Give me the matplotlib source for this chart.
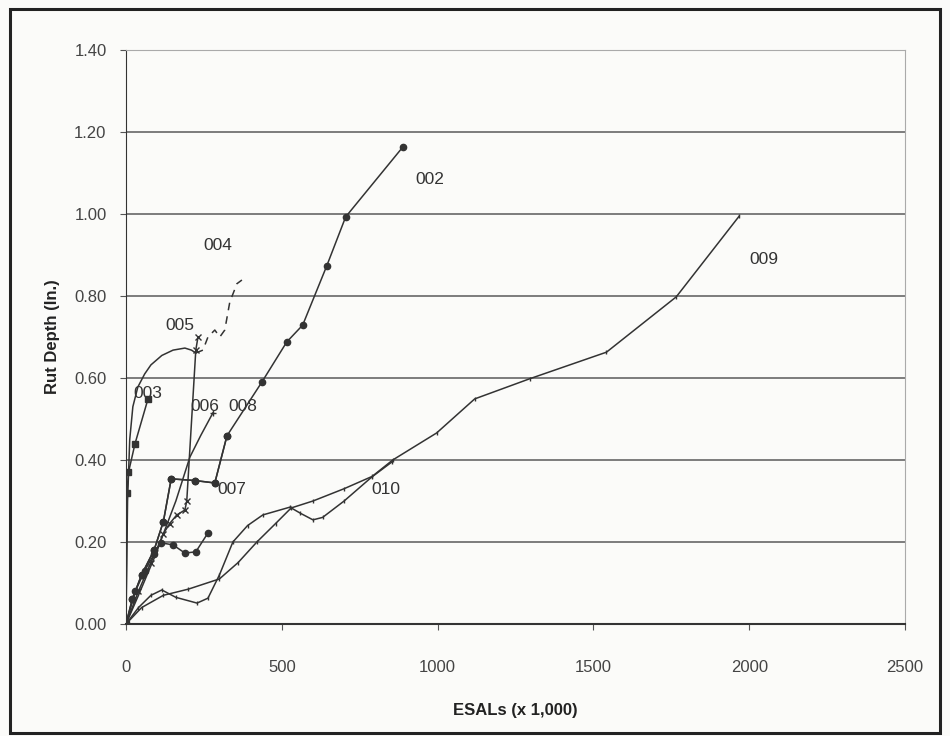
import matplotlib.pyplot as plt
from matplotlib.patches import Rectangle

plt.rcParams['font.family'] = ['Liberation Sans', 'DejaVu Sans']

# section data (ESALs x 1000, rut depth in.)
x_002 = [0, 20, 50, 90, 120, 145, 220, 285, 324, 436, 516, 567, 644, 705, 888]
y_002 = [0, 0.06, 0.12, 0.18, 0.25, 0.354, 0.35, 0.344, 0.459, 0.59, 0.688, 0.729, 0.873, 0.993, 1.163]

x_003 = [0, 3, 8, 29, 71]
y_003 = [0, 0.32, 0.37, 0.44, 0.55]

x_004 = [0, 5, 12, 22, 38, 60, 80, 115, 151, 189, 210, 224]
y_004 = [0, 0.30, 0.45, 0.53, 0.578, 0.61, 0.632, 0.655, 0.668, 0.673, 0.668, 0.661]
x_004b = [224, 247, 263, 285, 301, 317, 333, 356, 372]
y_004b = [0.661, 0.668, 0.70, 0.717, 0.70, 0.717, 0.785, 0.83, 0.839]

x_005 = [0, 40, 80, 120, 140, 163, 189, 195, 224, 231]
y_005 = [0, 0.08, 0.15, 0.22, 0.245, 0.266, 0.278, 0.30, 0.668, 0.70]

x_006 = [0, 40, 90, 130, 160, 205, 240, 279]
y_006 = [0, 0.07, 0.16, 0.24, 0.30, 0.407, 0.46, 0.515]

x_007 = [0, 30, 60, 90, 112, 151, 189, 224, 263]
y_007 = [0, 0.08, 0.13, 0.17, 0.198, 0.193, 0.173, 0.176, 0.222]

x_008 = [0, 20, 50, 90, 120, 145, 220, 285, 324]
y_008 = [0, 0.06, 0.12, 0.18, 0.25, 0.354, 0.35, 0.344, 0.459]

x_009 = [0, 50, 120, 200, 300, 360, 420, 480, 530, 600, 700, 790, 856, 997, 1119, 1295, 1542, 1766, 1968]
y_009 = [0, 0.04, 0.07, 0.085, 0.11, 0.15, 0.20, 0.245, 0.283, 0.30, 0.33, 0.36, 0.40, 0.466, 0.549, 0.598, 0.663, 0.798, 0.995]

x_010 = [0, 40, 80, 115, 160, 228, 263, 300, 343, 390, 439, 526, 560, 600, 631, 700, 788, 853]
y_010 = [0, 0.04, 0.07, 0.083, 0.065, 0.051, 0.063, 0.12, 0.20, 0.24, 0.266, 0.285, 0.27, 0.254, 0.26, 0.30, 0.358, 0.395]

# label positions
lbl_text = ['002', '003', '004', '005', '006', '007', '008', '009', '010']
lbl_x = [974, 71, 295, 173, 253, 340, 375, 2048, 833]
lbl_y = [1.083, 0.563, 0.924, 0.727, 0.53, 0.327, 0.53, 0.888, 0.327]

yticks = [0, 0.2, 0.4, 0.6, 0.8, 1.0, 1.2, 1.4]
xticks = [0, 500, 1000, 1500, 2000, 2500]

ink = '#333333'
fig = plt.figure(figsize=(9.5, 7.36), dpi=100)
fig.patch.set_facecolor('#fbfbf9')
fig.patches.append(Rectangle((10/950, 3/736), 930/950, 724/736, transform=fig.transFigure,
                             fill=False, edgecolor='#222222', linewidth=2.2))

ax = fig.add_axes([126/950, 1-624/736, 779/950, 574/736])
ax.set_facecolor('#fbfbf9')

kw = dict(color=ink, linewidth=1.1)
ax.plot(x_002, y_002, marker='o', markersize=4.5, **kw)
ax.plot(x_003, y_003, marker='s', markersize=4.5, **kw)
ax.plot(x_004, y_004, **kw)
ax.plot(x_004b, y_004b, linestyle=(0, (5, 4)), **kw)
ax.plot(x_005, y_005, marker='x', markersize=5, **kw)
ax.plot(x_006, y_006, marker='+', markersize=5, markevery=[-1], **kw)
ax.plot(x_007, y_007, marker='o', markersize=4.5, **kw)
ax.plot(x_008, y_008, marker='o', markersize=4.5, **kw)
ax.plot(x_009, y_009, marker='|', markersize=3, **kw)
ax.plot(x_010, y_010, marker='|', markersize=3, **kw)

for t, lx, ly in zip(lbl_text, lbl_x, lbl_y):
    ax.text(lx, ly, t, fontsize=12.5, color='#333333', ha='center', va='center')

ax.set_xlim(0, 2500)
ax.set_ylim(0, 1.4)
ax.set_xticks(xticks)
ax.set_yticks(yticks)
ax.set_yticklabels([f'{v:.2f}' for v in yticks])
ax.tick_params(labelsize=12, labelcolor='#444444', color='#555555', length=4, direction='out')
ax.tick_params(axis='x', pad=22)
ax.tick_params(axis='y', pad=10)
ax.grid(axis='y', color='#5a5a5a', linewidth=1.1)
ax.set_axisbelow(True)
for s in ['top', 'right']:
    ax.spines[s].set_color('#aaaaaa')
    ax.spines[s].set_linewidth(0.8)
ax.spines['left'].set_color('#333333')
ax.spines['bottom'].set_color('#333333')
ax.spines['bottom'].set_linewidth(1.5)

ax.set_xlabel('ESALs (x 1,000)', fontsize=12, fontweight='bold', color='#222222', labelpad=20)
ax.set_ylabel('Rut Depth (In.)', fontsize=12, fontweight='bold', color='#222222', labelpad=10)

fig.savefig('out.png', dpi=100, facecolor=fig.get_facecolor())
